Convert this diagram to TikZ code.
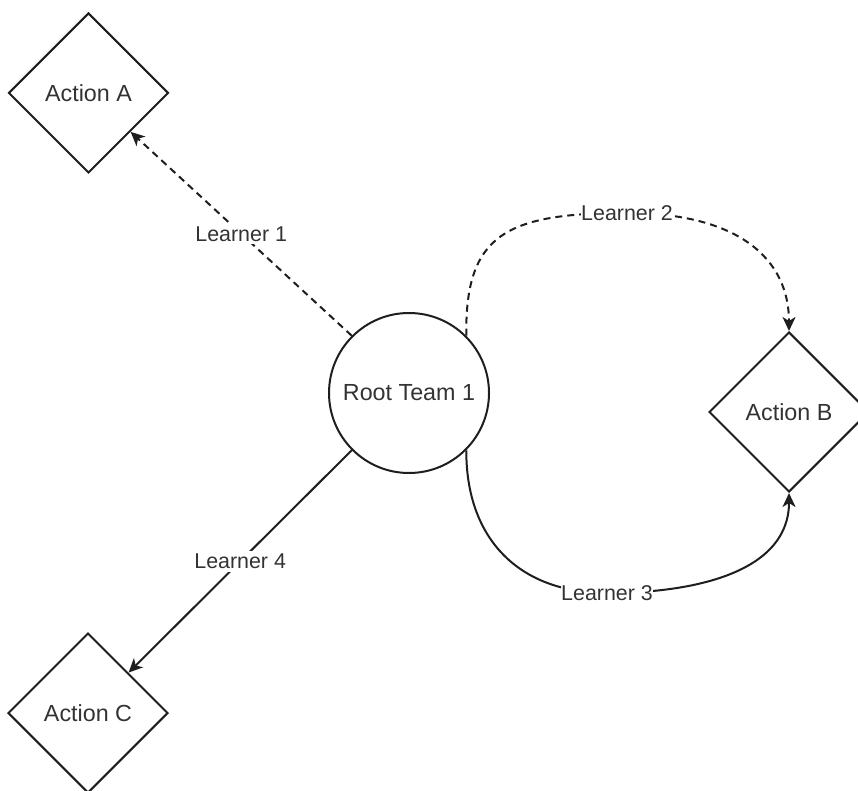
\documentclass[tikz,border=0pt]{standalone}
\usepackage{fontspec}
\setmainfont{Liberation Sans}
\usetikzlibrary{shapes.geometric,arrows.meta}
\definecolor{ink}{HTML}{1E1E1E}
\definecolor{txt}{HTML}{333333}
\tikzset{
  x=1pt, y=-1pt,
  actionbox/.style={diamond, draw=ink, line width=2pt, minimum width=160pt,
    minimum height=160pt, inner sep=0pt, text=txt,
    font=\fontsize{23.3}{28}\selectfont},
  teambox/.style={circle, draw=ink, line width=2pt, minimum size=160pt,
    inner sep=0pt, text=txt, font=\fontsize{23.3}{28}\selectfont},
  edge/.style={draw=ink, line width=2pt,
    -{Stealth[length=14pt, width=13pt, inset=4pt]}},
  dashedge/.style={edge, dash pattern=on 7pt off 5pt},
  lbl/.style={fill=white, inner sep=0.5pt, text=txt,
    font=\fontsize{21.4}{26}\selectfont}
}
\begin{document}
\begin{tikzpicture}
\useasboundingbox (0,0) rectangle (858,791);

% nodes
\node[teambox]   (root) at (409,393) {Root Team 1};
\node[actionbox] (A)    at (88.5,93) {Action A};
\node[actionbox] (B)    at (789,412) {Action B};
\node[actionbox] (C)    at (88,713)  {Action C};

% points where the curved edges carry their labels
\coordinate (l2pos) at (627,213);
\coordinate (l3pos) at (607,593);

% edges
\draw[dashedge] (root.135) -- (A) node[pos=0.5, lbl, inner sep=3pt] (l1) {Learner 1};
\draw[dashedge] (root.45) .. controls (465,235) and (505,213) .. (l2pos)
                .. controls (740,213) and (789,260) .. (B.north);
\draw[edge] (root.-45) .. controls (466,540) and (520,593) .. (l3pos)
            .. controls (700,593) and (789,570) .. (B.south);
\draw[edge] (root.225) -- (C) node[pos=0.5, lbl, inner sep=3pt] (l4) {Learner 4};

% labels on the curved edges
\node[lbl] (l2) at (l2pos) {Learner 2};
\node[lbl] (l3) at (l3pos) {Learner 3};
\end{tikzpicture}
\end{document}
